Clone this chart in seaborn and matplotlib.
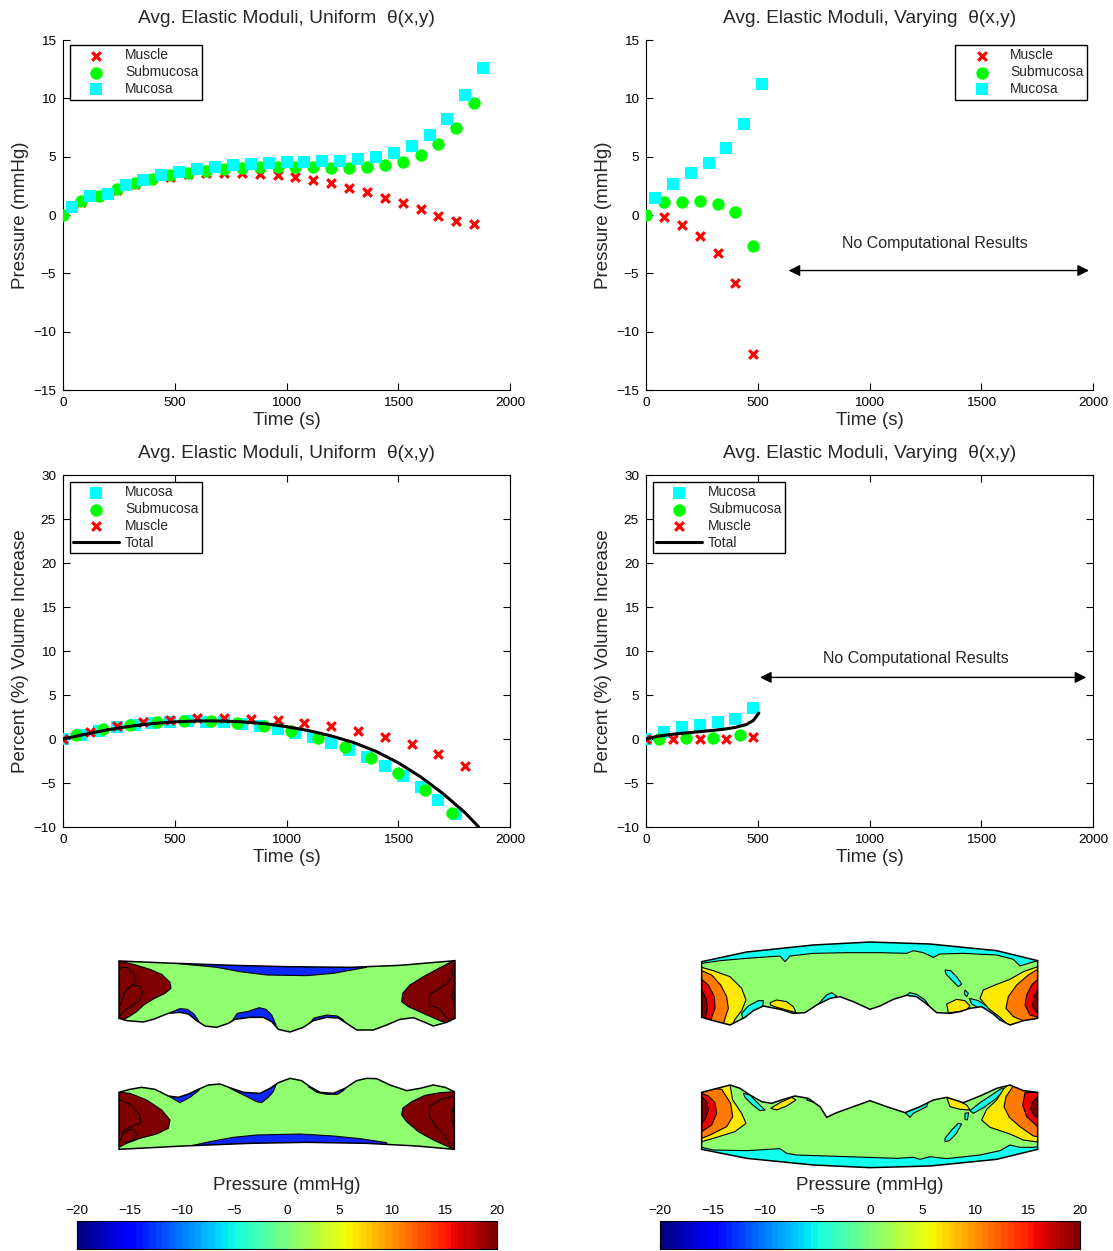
import numpy as np
import pandas as pd
import seaborn as sns
import matplotlib as mpl
import matplotlib.pyplot as plt
from matplotlib.patches import Polygon, FancyArrowPatch

# ---------------- data: average pressure (top row) ----------------
t_uni = list(range(0, 1841, 80))
muscle_p_uni = [0, 1.15, 1.6, 2.15, 2.65, 3.05, 3.3, 3.49, 3.57, 3.6, 3.57, 3.54,
                3.4, 3.26, 3.0, 2.71, 2.34, 1.94, 1.49, 1.0, 0.49, -0.06, -0.51, -0.8]
submuc_p_uni = [0, 1.18, 1.65, 2.2, 2.72, 3.12, 3.41, 3.64, 3.79, 3.93, 4.05, 4.08,
                4.08, 4.08, 4.08, 4.05, 4.07, 4.13, 4.28, 4.57, 5.14, 6.07, 7.46, 9.57]
t_muc_uni = list(range(40, 1881, 80))
mucosa_p_uni = [0.66, 1.62, 1.82, 2.57, 3.0, 3.44, 3.7, 3.93, 4.13, 4.3, 4.39, 4.42,
                4.54, 4.54, 4.6, 4.65, 4.77, 5.0, 5.35, 5.95, 6.85, 8.27, 10.3, 12.6]

t_var = [0, 80, 160, 240, 320, 400, 480]
muscle_p_var = [0, -0.17, -0.85, -1.8, -3.25, -5.87, -11.9]
submuc_p_var = [0, 1.11, 1.14, 1.22, 0.97, 0.23, -2.62]
t_muc_var = [40, 120, 200, 280, 360, 440, 520]
mucosa_p_var = [1.45, 2.65, 3.56, 4.47, 5.75, 7.83, 11.2]

# ---------------- data: volume increase (middle row) ----------------
t_mus_vu = list(range(0, 1801, 120))
muscle_v_uni = [0, 0.8, 1.48, 1.93, 2.16, 2.39, 2.42, 2.31, 2.16, 1.86, 1.52, 0.95,
                0.23, -0.61, -1.74, -3.1]
t_sub_vu = list(range(60, 1741, 120))
submuc_v_uni = [0.42, 1.1, 1.63, 1.9, 2.05, 2.0, 1.78, 1.44, 0.95, 0.15, -0.87,
                -2.12, -3.83, -5.8, -8.37]
t_muc_vu = list(range(0, 1761, 80))
mucosa_v_uni = [0, 0.45, 0.95, 1.35, 1.62, 1.82, 1.95, 2.0, 1.98, 1.9, 1.75, 1.5,
                1.15, 0.7, 0.2, -0.45, -1.2, -2.1, -3.1, -4.2, -5.5, -6.9, -8.5]
t_tot_vu = [0, 100, 200, 300, 400, 500, 600, 700, 800, 900, 1000, 1100, 1200,
            1300, 1400, 1500, 1600, 1700, 1800, 1860]
total_v_uni = [0, 0.55, 1.05, 1.45, 1.75, 1.95, 2.05, 2.05, 1.95, 1.75, 1.4, 0.95,
               0.35, -0.4, -1.4, -2.7, -4.3, -6.2, -8.4, -10]

t_muc_vv = [0, 80, 160, 240, 320, 400, 480]
mucosa_v_var = [0, 0.76, 1.33, 1.63, 1.9, 2.31, 3.48]
t_sub_vv = [60, 180, 300, 420]
submuc_v_var = [-0.04, 0.08, 0.15, 0.45]
t_mus_vv = [0, 120, 240, 360, 480]
muscle_v_var = [0, 0, 0, 0, 0.23]
t_tot_vv = [0, 50, 100, 150, 200, 250, 300, 350, 400, 450, 480, 505]
total_v_var = [0, 0.3, 0.48, 0.62, 0.74, 0.86, 0.98, 1.12, 1.32, 1.65, 2.1, 2.95]

# ---------------- data: pressure field sections (bottom row) ----------------
# vertices in units of the (3x) crop of each section
sec1_body = [(57, 93), (200, 99), (400, 106), (560, 110), (750, 112), (900, 106), (1065, 92),
             (1065, 265), (1040, 277), (1000, 288), (970, 275), (940, 263), (900, 268), (860, 285),
             (820, 300), (770, 300), (740, 280), (715, 264), (680, 262), (640, 272), (610, 292),
             (570, 306), (535, 298), (515, 275), (490, 262), (450, 262), (405, 268), (385, 280),
             (350, 292), (315, 288), (290, 272), (265, 252), (240, 247), (205, 250), (160, 268),
             (130, 276), (80, 272), (57, 265)]
sec1_blue = [
    [(215, 99), (350, 112), (420, 125), (500, 135), (620, 137), (700, 130), (800, 112), (800, 60), (215, 60)],
    [(210, 248), (240, 236), (262, 238), (282, 252), (300, 280), (320, 330), (200, 330)],
    [(395, 275), (412, 250), (445, 244), (478, 233), (498, 238), (515, 255), (530, 290), (540, 330), (390, 330)],
    [(625, 285), (642, 264), (680, 255), (712, 258), (728, 268), (745, 290), (745, 330), (625, 330)]]
sec1_hot = [
    [(0, 80), (100, 103), (150, 118), (185, 133), (210, 157), (213, 175), (195, 190), (160, 207),
     (130, 226), (110, 245), (90, 258), (60, 275), (0, 300)],
    [(1140, 80), (1065, 90), (1020, 113), (970, 140), (930, 165), (908, 190), (905, 215), (925, 230),
     (970, 250), (1010, 268), (1040, 280), (1140, 300)]]
sec1_lines = [
    [(57, 115), (80, 112), (100, 128), (108, 150), (98, 165), (78, 180), (70, 200), (62, 225)],
    [(98, 165), (120, 168), (128, 188), (118, 212), (95, 228), (72, 242), (60, 258)],
    [(1055, 105), (1058, 135), (1042, 160), (1012, 180), (990, 192), (988, 225), (1018, 236), (1034, 256), (1050, 275)],
    [(1062, 170), (1056, 200), (1063, 222)]]

sec2_body = [(57, 97), (90, 88), (125, 82), (165, 88), (205, 108), (235, 112), (265, 102), (295, 88),
             (325, 75), (360, 72), (395, 85), (430, 97), (480, 100), (510, 85), (535, 68), (570, 55),
             (605, 62), (630, 80), (660, 97), (700, 100), (735, 85), (770, 62), (800, 55), (830, 56),
             (870, 75), (920, 92), (960, 85), (1000, 75), (1035, 82), (1063, 95),
             (1063, 268), (950, 258), (800, 250), (620, 247), (450, 250), (250, 258), (57, 268)]
sec2_blue = [
    [(205, 108), (240, 128), (270, 112), (298, 90), (300, 40), (200, 40)],
    [(390, 85), (420, 100), (445, 112), (470, 125), (485, 128), (505, 112), (520, 95), (530, 70), (530, 30), (390, 30)],
    [(625, 80), (650, 97), (680, 103), (712, 103), (730, 92), (740, 80), (740, 30), (625, 30)],
    [(270, 258), (330, 245), (400, 232), (470, 225), (600, 222), (700, 228), (780, 236), (860, 248), (860, 300), (270, 300)]]
sec2_hot = [
    [(0, 80), (57, 97), (90, 100), (140, 120), (185, 150), (210, 180), (205, 205), (170, 222),
     (120, 235), (80, 250), (57, 262), (0, 300)],
    [(1140, 80), (1063, 95), (1020, 98), (975, 106), (935, 125), (908, 145), (905, 165), (920, 185),
     (955, 215), (1000, 240), (1040, 258), (1140, 300)]]
sec2_lines = [
    [(57, 118), (80, 128), (100, 140), (120, 165), (122, 190), (95, 200), (72, 210), (62, 240)],
    [(68, 218), (95, 207), (112, 222), (98, 242), (70, 248)],
    [(1058, 108), (1025, 118), (990, 138), (988, 168), (1008, 200), (1035, 225), (1050, 258)],
    [(1060, 140), (1053, 170), (1060, 195)]]

sec3_body = [(65, 95), (200, 66), (400, 45), (570, 36), (750, 42), (950, 62), (1073, 92),
             (1073, 265), (1030, 272), (990, 285), (960, 270), (940, 252), (905, 230), (870, 235),
             (840, 245), (810, 250), (770, 248), (740, 222), (710, 200), (680, 196), (640, 208),
             (600, 228), (570, 238), (520, 215), (480, 200), (450, 205), (410, 225), (375, 248),
             (340, 250), (300, 238), (250, 228), (220, 242), (195, 262), (150, 285), (100, 272), (65, 262)]
sec3_cyan = [
    [(65, 100), (120, 92), (200, 85), (300, 78), (315, 95), (330, 78), (400, 70), (500, 68), (600, 68),
     (680, 70), (700, 62), (730, 68), (760, 82), (780, 72), (850, 70), (950, 75), (1000, 88), (1020, 108),
     (1045, 100), (1073, 92), (1100, 0), (40, 0)],
    [(795, 120), (812, 122), (830, 140), (845, 162), (835, 170), (815, 150), (798, 132)],
    [(855, 180), (865, 190), (860, 200), (853, 192)],
    [(868, 205), (895, 212), (925, 232), (955, 255), (985, 282), (970, 285), (940, 262), (905, 238), (875, 222)],
    [(185, 250), (205, 228), (235, 212), (250, 212), (248, 230), (225, 240), (205, 262), (190, 275)],
    [(400, 240), (415, 222), (440, 195), (455, 188), (470, 198), (445, 212), (420, 232)],
    [(675, 198), (690, 188), (710, 193), (735, 210), (755, 238), (765, 250), (740, 235), (715, 215), (690, 208)]]
sec3_yellow = [
    [(0, 100), (65, 112), (100, 122), (150, 140), (185, 175), (198, 210), (185, 242), (165, 268), (150, 300), (0, 300)],
    [(1140, 100), (1073, 110), (1030, 125), (990, 148), (945, 165), (910, 180), (900, 205), (925, 235),
     (960, 262), (990, 290), (1140, 300)],
    [(270, 218), (290, 210), (320, 215), (340, 230), (348, 248), (320, 240), (290, 232), (272, 225)],
    [(800, 222), (830, 208), (855, 212), (870, 228), (860, 240), (830, 246), (805, 248)]]
sec3_orange = [
    [(0, 110), (65, 122), (95, 135), (122, 165), (140, 200), (145, 235), (135, 265), (125, 300), (0, 300)],
    [(1140, 110), (1073, 118), (1045, 135), (1010, 165), (985, 200), (978, 235), (1000, 260), (1030, 272), (1140, 300)]]
sec3_red = [
    [(0, 130), (65, 148), (85, 165), (103, 200), (105, 235), (95, 262), (90, 300), (0, 300)],
    [(1140, 140), (1073, 148), (1055, 165), (1040, 195), (1035, 225), (1050, 255), (1073, 262), (1140, 300)]]
sec3_dark = [
    [(0, 170), (65, 180), (78, 205), (82, 230), (78, 255), (70, 300), (0, 300)],
    [(1140, 175), (1073, 180), (1062, 200), (1058, 230), (1073, 250), (1140, 260)]]

sec4_body = [(65, 97), (100, 88), (150, 75), (180, 85), (210, 105), (245, 125), (275, 130), (310, 118),
             (345, 108), (385, 115), (420, 140), (440, 172), (470, 158), (520, 140), (570, 122), (620, 140),
             (675, 158), (720, 140), (760, 120), (800, 112), (850, 128), (900, 108), (950, 85), (990, 75),
             (1030, 92), (1073, 97),
             (1073, 268), (950, 298), (750, 318), (570, 323), (400, 315), (200, 295), (65, 268)]
sec4_cyan = [
    [(65, 262), (100, 270), (200, 272), (300, 266), (320, 280), (350, 285), (500, 290), (650, 295), (700, 292),
     (720, 298), (750, 290), (800, 296), (900, 285), (960, 272), (990, 255), (1020, 262), (1060, 262),
     (1073, 260), (1100, 360), (40, 360)],
    [(795, 245), (808, 242), (828, 222), (845, 192), (835, 190), (815, 210), (795, 235)],
    [(855, 160), (866, 158), (862, 180), (855, 178)],
    [(870, 152), (900, 128), (935, 105), (965, 85), (975, 90), (945, 118), (912, 142), (880, 160)],
    [(190, 100), (210, 105), (232, 128), (255, 150), (240, 152), (215, 132), (195, 112)],
    [(380, 120), (410, 130), (435, 150), (460, 160), (470, 150), (430, 120), (390, 100)],
    [(675, 158), (690, 150), (720, 140), (745, 125), (740, 140), (700, 160), (690, 172)]]
sec4_yellow = [
    [(0, 90), (130, 70), (150, 75), (158, 120), (185, 160), (198, 190), (165, 215), (100, 235), (65, 245), (0, 260)],
    [(1140, 90), (990, 70), (972, 85), (950, 120), (920, 148), (905, 180), (930, 202), (990, 222), (1030, 240),
     (1073, 246), (1140, 255)],
    [(272, 145), (300, 128), (335, 112), (348, 120), (320, 138), (290, 150)],
    [(800, 112), (830, 120), (860, 135), (870, 150), (840, 148), (810, 140)]]
sec4_orange = [
    [(0, 90), (100, 85), (125, 88), (152, 130), (158, 170), (140, 200), (90, 225), (65, 235), (0, 250)],
    [(1140, 90), (1000, 78), (978, 110), (972, 140), (988, 172), (1020, 200), (1060, 228), (1140, 240)]]
sec4_red = [
    [(0, 95), (65, 100), (85, 108), (105, 128), (110, 160), (95, 195), (65, 215), (0, 230)],
    [(1140, 95), (1035, 98), (1028, 135), (1040, 170), (1073, 200), (1140, 210)]]
sec4_dark = [
    [(0, 105), (65, 110), (80, 125), (85, 150), (75, 178), (65, 190), (0, 200)],
    [(1140, 105), (1073, 110), (1058, 125), (1052, 148), (1066, 170), (1140, 180)]]

cbar_ticks = [-20, -15, -10, -5, 0, 5, 10, 15, 20]

# ---------------- style ----------------
sns.set_style("white")
plt.rcParams['font.family'] = ['Liberation Sans', 'DejaVu Sans']

FW, FH = 1113, 1251
fig = plt.figure(figsize=(FW / 100, FH / 100), dpi=100)


def px_axes(x0, y0, w, h):
    return fig.add_axes([x0 / FW, 1 - (y0 + h) / FH, w / FW, h / FH])


def style_axes(ax, ylim, ystep, box, ylabel, title):
    ax.set_xlim(0, 2000)
    ax.set_ylim(*ylim)
    ax.set_xticks(range(0, 2001, 500))
    ax.set_yticks(range(ylim[0], ylim[1] + 1, ystep))
    ax.tick_params(direction='in', length=5, width=0.8, labelsize=9.7, top=box, right=box,
                   bottom=True, left=True, pad=5, colors='black')
    for s in ax.spines.values():
        s.set_color('black')
        s.set_linewidth(0.8)
    ax.spines['top'].set_visible(box)
    ax.spines['right'].set_visible(box)
    ax.set_xlabel("Time (s)", fontsize=13.5, labelpad=2)
    ax.set_ylabel(ylabel, fontsize=13.5, labelpad=3)
    ax.set_title(title, fontsize=13.8, pad=12)


def legend(ax, loc, anchor):
    ax.legend(loc=loc, bbox_to_anchor=anchor, borderaxespad=0, frameon=True, fancybox=False,
              edgecolor='black', framealpha=1, fontsize=10, handlelength=3.3, handletextpad=0.4,
              labelspacing=0.2, borderpad=0.25)
    ax.get_legend().get_frame().set_linewidth(1.0)


def scatter_set(ax, order, series):
    for name in order:
        t, v = series[name]
        df = pd.DataFrame({"t": t, "v": v})
        if name == "Muscle":
            sns.scatterplot(data=df, x="t", y="v", ax=ax, marker='x', color='red', s=38,
                            linewidth=2.3, label=name, zorder=3)
        elif name == "Submucosa":
            sns.scatterplot(data=df, x="t", y="v", ax=ax, marker='o', color='#00ff00', s=80,
                            linewidth=0, label=name, zorder=3)
        else:
            sns.scatterplot(data=df, x="t", y="v", ax=ax, marker='s', color='cyan', s=64,
                            linewidth=0, label=name, zorder=3)


def no_results(ax, x_text, y_text, x0, x1, y):
    ax.text(x_text, y_text, "No Computational Results", ha='center', va='center', fontsize=11.5)
    ax.add_patch(FancyArrowPatch((x0, y), (x1, y), arrowstyle='<|-|>', mutation_scale=17,
                                 color='black', lw=1.0, shrinkA=0, shrinkB=0))


title_u = "Avg. Elastic Moduli, Uniform  θ(x,y)"
title_v = "Avg. Elastic Moduli, Varying  θ(x,y)"

# top-left
ax = px_axes(63, 40, 447, 350)
scatter_set(ax, ["Muscle", "Submucosa", "Mucosa"],
            {"Muscle": (t_uni, muscle_p_uni), "Submucosa": (t_uni, submuc_p_uni),
             "Mucosa": (t_muc_uni, mucosa_p_uni)})
style_axes(ax, (-15, 15), 5, False, "Pressure (mmHg)", title_u)
legend(ax, 'upper left', (7 / 447, 1 - 5 / 350))

# top-right
ax = px_axes(646, 40, 447, 350)
scatter_set(ax, ["Muscle", "Submucosa", "Mucosa"],
            {"Muscle": (t_var, muscle_p_var), "Submucosa": (t_var, submuc_p_var),
             "Mucosa": (t_muc_var, mucosa_p_var)})
style_axes(ax, (-15, 15), 5, False, "Pressure (mmHg)", title_v)
legend(ax, 'upper right', (1 - 6 / 447, 1 - 5 / 350))
no_results(ax, 1293, -2.4, 638, 1982, -4.76)

# middle-left
ax = px_axes(63, 475, 447, 352)
scatter_set(ax, ["Mucosa", "Submucosa", "Muscle"],
            {"Muscle": (t_mus_vu, muscle_v_uni), "Submucosa": (t_sub_vu, submuc_v_uni),
             "Mucosa": (t_muc_vu, mucosa_v_uni)})
sns.lineplot(x=t_tot_vu, y=total_v_uni, ax=ax, color='black', lw=2.2, label="Total", zorder=4)
style_axes(ax, (-10, 30), 5, True, "Percent (%) Volume Increase", title_u)
legend(ax, 'upper left', (7 / 447, 1 - 7 / 352))

# middle-right
ax = px_axes(646, 475, 447, 352)
scatter_set(ax, ["Mucosa", "Submucosa", "Muscle"],
            {"Muscle": (t_mus_vv, muscle_v_var), "Submucosa": (t_sub_vv, submuc_v_var),
             "Mucosa": (t_muc_vv, mucosa_v_var)})
sns.lineplot(x=t_tot_vv, y=total_v_var, ax=ax, color='black', lw=2.2, label="Total", zorder=4)
style_axes(ax, (-10, 30), 5, True, "Percent (%) Volume Increase", title_v)
legend(ax, 'upper left', (7 / 447, 1 - 7 / 352))
no_results(ax, 1208, 9.2, 510, 1970, 7.0)

# ---------------- pressure sections ----------------
GREEN, BLUE, CYAN = "#8fff70", "#0a28ff", "#10ffee"
YELLOW, ORANGE, RED, DARK = "#ffe900", "#ff7a00", "#ee0000", "#800000"


def section(x0, y0, w, h, body, layers, lines=()):
    a = px_axes(x0, y0, w, h)
    a.set_xlim(0, 3 * w)
    a.set_ylim(3 * h, 0)
    a.axis('off')
    bp = Polygon(body, closed=True, facecolor=GREEN, edgecolor='none', zorder=1)
    a.add_patch(bp)
    for polys, col in layers:
        for verts in polys:
            p = Polygon(verts, closed=True, facecolor=col, edgecolor='black', lw=0.8, zorder=2)
            a.add_patch(p)
            p.set_clip_path(bp)
    for ln in lines:
        xs, ys = zip(*ln)
        a.plot(xs, ys, color='black', lw=0.7, zorder=3)
    a.add_patch(Polygon(body, closed=True, fill=False, edgecolor='black', lw=1.1, zorder=4))


section(100, 930, 380, 120, sec1_body, [(sec1_blue, BLUE), (sec1_hot, DARK)], sec1_lines)
section(100, 1060, 380, 110, sec2_body, [(sec2_blue, BLUE), (sec2_hot, DARK)], sec2_lines)
section(680, 930, 380, 120, sec3_body,
        [(sec3_cyan, CYAN), (sec3_yellow, YELLOW), (sec3_orange, ORANGE), (sec3_red, RED), (sec3_dark, DARK)])
section(680, 1060, 380, 120, sec4_body,
        [(sec4_cyan, CYAN), (sec4_yellow, YELLOW), (sec4_orange, ORANGE), (sec4_red, RED), (sec4_dark, DARK)])

# ---------------- colorbars ----------------
cmap = plt.get_cmap('jet', 64)
norm = mpl.colors.Normalize(vmin=-20, vmax=20)
for x0, xc in [(77, 287), (660, 870)]:
    cax = px_axes(x0, 1221, 420, 28)
    cb = fig.colorbar(mpl.cm.ScalarMappable(norm=norm, cmap=cmap), cax=cax, orientation='horizontal')
    cb.set_ticks(cbar_ticks)
    cax.xaxis.set_ticks_position('both')
    cax.xaxis.set_label_position('top')
    cax.tick_params(axis='x', direction='in', length=5, width=0.8, labelsize=9.7,
                    labeltop=True, labelbottom=False, pad=3, colors='black')
    cb.outline.set_edgecolor('black')
    cb.outline.set_linewidth(0.8)
    fig.text(xc / FW, 1 - 1185 / FH, "Pressure (mmHg)", ha='center', va='center', fontsize=13.5)

fig.savefig("out.png", dpi=100)
